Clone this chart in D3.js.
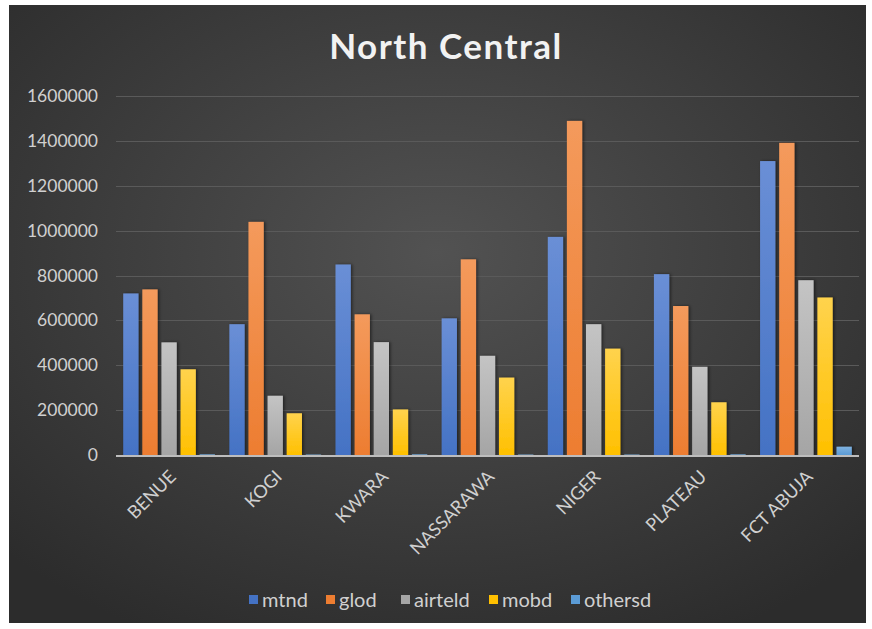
<!DOCTYPE html>
<html>
<head>
<meta charset="utf-8">
<title>North Central</title>
<script src="https://d3js.org/d3.v7.min.js"></script>
<style>
    html, body { margin: 0; padding: 0; background: #fff; }
    svg { display: block; }
    .title { font-family: Lato, "Open Sans", sans-serif; font-weight: 700; font-size: 35px; letter-spacing: 1.5px; fill: #f2f2f2; text-anchor: middle; }
    .y-axis text { font-family: Lato, "Open Sans", sans-serif; font-size: 17.5px; fill: #d0d0d0; }
    .x-label { font-family: Lato, "Open Sans", sans-serif; font-size: 18px; fill: #d0d0d0; }
    .legend text { font-family: Lato, "Open Sans", sans-serif; font-size: 20px; fill: #d0d0d0; }
    .grid line { stroke: #5a5a5a; stroke-width: 1px; }
</style>
</head>
<body>
<svg width="872" height="629"></svg>
<script>
    // data
    let states = ['BENUE', 'KOGI', 'KWARA', 'NASSARAWA', 'NIGER', 'PLATEAU', 'FCT ABUJA'];
    let seriesNames = ['mtnd', 'glod', 'airteld', 'mobd', 'othersd'];
    let mtnd    = [720000, 583000, 849000, 609000, 972000, 806000, 1310000];
    let glod    = [738000, 1039000, 627000, 872000, 1489000, 664000, 1391000];
    let airteld = [502000, 264000, 503000, 442000, 583000, 393000, 779000];
    let mobd    = [382000, 186000, 203000, 345000, 474000, 235000, 702000];
    let othersd = [3000, 2000, 3000, 2000, 2000, 3000, 37000];
    let yTicks  = [0, 200000, 400000, 600000, 800000, 1000000, 1200000, 1400000, 1600000];

    let colours = ['#4472c4', '#ed7d31', '#a5a5a5', '#ffc000', '#5b9bd5'];
    let lighter = ['#6a8fd6', '#f49a5c', '#c4c4c4', '#ffd34d', '#7fb2e0'];
    let values = [mtnd, glod, airteld, mobd, othersd];

    let table = states.map((s, i) => ({
        state: s,
        vals: seriesNames.map((n, j) => ({ key: n, value: values[j][i], idx: j }))
    }));

    let svg = d3.select('svg');
    let defs = svg.append('defs');

    let bg = defs.append('radialGradient').attr('id', 'bg')
        .attr('cx', '0.5').attr('cy', '0.4').attr('r', '0.7');
    bg.append('stop').attr('offset', '0%').attr('stop-color', '#525252');
    bg.append('stop').attr('offset', '100%').attr('stop-color', '#2c2c2c');

    colours.forEach((c, i) => {
        let g = defs.append('linearGradient').attr('id', 'bar' + i)
            .attr('x1', 0).attr('y1', 0).attr('x2', 0).attr('y2', 1);
        g.append('stop').attr('offset', '0%').attr('stop-color', lighter[i]);
        g.append('stop').attr('offset', '100%').attr('stop-color', c);
    });

    let shadow = defs.append('filter').attr('id', 'shadow')
        .attr('x', '-30%').attr('y', '-10%').attr('width', '160%').attr('height', '120%');
    shadow.append('feDropShadow').attr('dx', 1.5).attr('dy', 0)
        .attr('stdDeviation', 1.5).attr('flood-color', '#000').attr('flood-opacity', 0.5);

    svg.append('rect')
        .attr('x', 9).attr('y', 5).attr('width', 857).attr('height', 618)
        .attr('fill', 'url(#bg)');

    svg.append('text').classed('title', true)
        .attr('x', 446).attr('y', 59)
        .text('North Central');

    let plotLeft = 116, plotRight = 859, plotTop = 96, plotBottom = 455;

    let y = d3.scaleLinear().domain([0, 1600000]).range([plotBottom, plotTop]);
    let x0 = d3.scaleBand().domain(states).range([plotLeft, plotRight])
        .paddingInner(0.136).paddingOuter(0.068);
    let x1 = d3.scaleBand().domain(seriesNames).range([0, x0.bandwidth()])
        .paddingInner(0.2);

    svg.append('g').classed('grid', true)
        .selectAll('line')
        .data(yTicks.slice(1))
        .join('line')
        .attr('x1', plotLeft).attr('x2', plotRight)
        .attr('y1', d => Math.round(y(d)) + 0.5)
        .attr('y2', d => Math.round(y(d)) + 0.5);

    let yAxis = svg.append('g').classed('y-axis', true)
        .attr('transform', `translate(${plotLeft - 13},0)`)
        .call(d3.axisLeft(y).tickValues(yTicks).tickSize(0).tickPadding(5).tickFormat(d3.format('d')));
    yAxis.select('.domain').remove();

    let groups = svg.append('g')
        .selectAll('g')
        .data(table)
        .join('g')
        .attr('transform', d => `translate(${x0(d.state)},0)`);

    groups.selectAll('rect')
        .data(d => d.vals)
        .join('rect')
        .attr('x', d => x1(d.key))
        .attr('y', d => y(d.value))
        .attr('width', x1.bandwidth())
        .attr('height', d => plotBottom - y(d.value))
        .attr('fill', d => `url(#bar${d.idx})`)
        .attr('filter', 'url(#shadow)');

    svg.append('line')
        .attr('x1', plotLeft).attr('x2', plotRight)
        .attr('y1', plotBottom + 1).attr('y2', plotBottom + 1)
        .attr('stroke', '#bdbdbd').attr('stroke-width', 2);

    svg.append('g')
        .selectAll('text')
        .data(states)
        .join('text')
        .classed('x-label', true)
        .attr('text-anchor', 'end')
        .attr('transform', d => `translate(${x0(d) + x0.bandwidth() / 2 - 1},${plotBottom + 14}) rotate(-45)`)
        .attr('dy', '0.7em')
        .text(d => d);

    let legendX = [249, 326, 401, 489, 571];
    let legend = svg.append('g').classed('legend', true)
        .selectAll('g')
        .data(seriesNames)
        .join('g')
        .attr('transform', (d, i) => `translate(${legendX[i]},600)`);
    legend.append('rect')
        .attr('x', 0).attr('y', -5).attr('width', 9).attr('height', 9)
        .attr('fill', (d, i) => colours[i]);
    legend.append('text')
        .attr('x', 13).attr('y', 0).attr('dy', '0.35em')
        .text(d => d);
</script>
</body>
</html>
